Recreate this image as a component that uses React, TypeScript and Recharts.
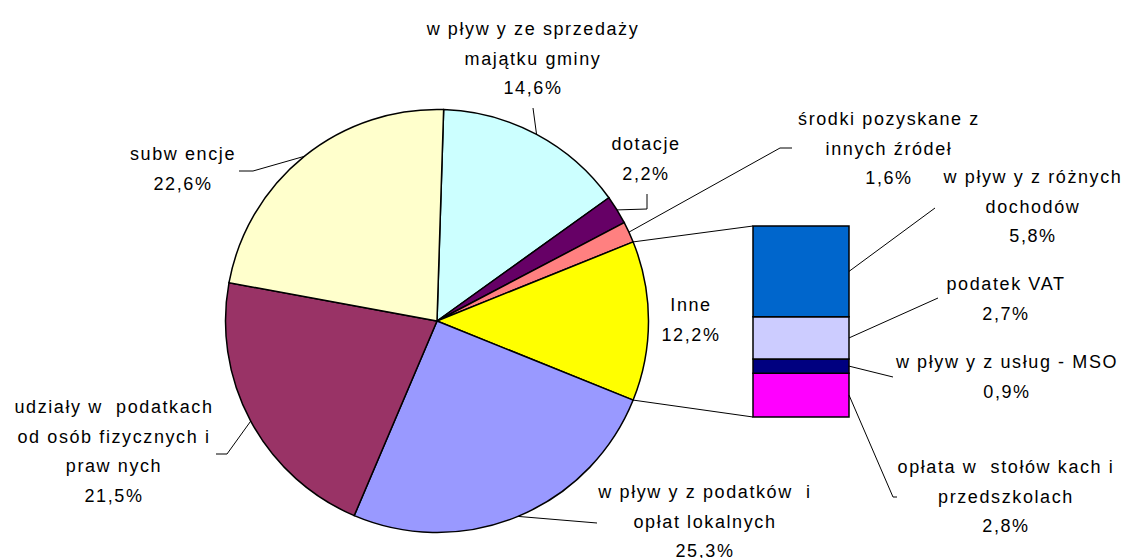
import { Bar, BarChart, Cell, Pie, PieChart, XAxis, YAxis } from "recharts"

// main pie, clockwise from the top
const pieNames = [
  "wpływy ze sprzedaży majątku gminy",
  "dotacje",
  "środki pozyskane z innych źródeł",
  "Inne",
  "wpływy z podatków i opłat lokalnych",
  "udziały w podatkach od osób fizycznych i prawnych",
  "subwencje",
]
const pieValues = [14.6, 2.2, 1.6, 12.2, 25.3, 21.5, 22.6]
const pieColors = ["#CCFFFF", "#660066", "#FF8080", "#FFFF00", "#9999FF", "#993366", "#FFFFCC"]
const pieLabels = [
  ["w pływ y ze sprzedaży", "majątku gminy", "14,6%"],
  ["dotacje", "2,2%"],
  ["środki pozyskane z", "innych źródeł", "1,6%"],
  ["Inne", "12,2%"],
  ["w pływ y z podatków  i", "opłat lokalnych", "25,3%"],
  ["udziały w  podatkach", "od osób fizycznych i", "praw nych", "21,5%"],
  ["subw encje", "22,6%"],
]
const otherIndex = 3

// breakdown of "Inne", bottom to top
const barNames = [
  "opłata w stołówkach i przedszkolach",
  "wpływy z usług - MSO",
  "podatek VAT",
  "wpływy z różnych dochodów",
]
const barValues = [2.8, 0.9, 2.7, 5.8]
const barColors = ["#FF00FF", "#000080", "#CCCCFF", "#0066CC"]
const barLabels = [
  ["opłata w  stołów kach i", "przedszkolach", "2,8%"],
  ["w pływ y z usług - MSO", "0,9%"],
  ["podatek VAT", "2,7%"],
  ["w pływ y z różnych", "dochodów", "5,8%"],
]

// layout
const W = 1125
const H = 558
const CX = 437
const CY = 321
const R = 211.5
const BAR_X = 753
const BAR_Y = 226
const BAR_W = 96
const BAR_H = 191
const LINE_H = 29.5
const FONT = "'Liberation Sans', Arial, sans-serif"

const pieLabelPos = [
  { x: 533, y: 35, leader: [[533, 108]] },
  { x: 646, y: 150, leader: [[647, 209], [647, 194]] },
  { x: 889, y: 125, leader: [[780, 148], [792, 148]] },
  { x: 691, y: 311, leader: [] },
  { x: 705, y: 498, leader: [[597, 523]] },
  { x: 114, y: 413, leader: [[227, 454], [216, 454]] },
  { x: 183, y: 160, leader: [[253, 171], [239, 171]] },
]
const barLabelPos = [
  { x: 1006, y: 473, leader: [[893, 497], [897, 497]] },
  { x: 1007, y: 368, leader: [[893, 377]] },
  { x: 1006, y: 290, leader: [[938, 298]] },
  { x: 1033, y: 183, leader: [[935, 208]] },
]

const total = pieValues.reduce((a, b) => a + b, 0)
const before = pieValues.slice(0, otherIndex).reduce((a, b) => a + b, 0)
// centre the "Inne" slice on 3 o'clock
const startAngle = ((before + pieValues[otherIndex] / 2) / total) * 360
const endAngle = startAngle - 360

const pieData = pieNames.map((name, i) => ({ name, value: pieValues[i] }))
const barRow: Record<string, string | number> = { name: "Inne" }
barValues.forEach((v, i) => (barRow["s" + i] = v))
const barData = [barRow]
const barTotal = barValues.reduce((a, b) => a + b, 0)

const polar = (deg: number, r = R): [number, number] => {
  const a = (deg * Math.PI) / 180
  return [CX + r * Math.cos(a), CY - r * Math.sin(a)]
}

function Label({ x, y, lines }: { x: number; y: number; lines: string[] }) {
  return (
    <text x={x} y={y} textAnchor="middle" fontFamily={FONT} fontSize={18} letterSpacing={1.6} fill="#000">
      {lines.map((l, i) => (
        <tspan key={i} x={x} y={y + i * LINE_H} style={{ whiteSpace: "pre" }}>
          {l}
        </tspan>
      ))}
    </text>
  )
}

export default function App() {
  // pie leader starting points: middle of each slice on the rim
  let acc = 0
  const pieMids = pieValues.map((v) => {
    const mid = startAngle - ((acc + v / 2) / total) * 360
    acc += v
    return polar(mid)
  })
  const halfOther = (pieValues[otherIndex] / total) * 180
  const otherTop = polar(halfOther)
  const otherBottom = polar(-halfOther)

  let bacc = 0
  const barMids = barValues.map((v) => {
    const mid = BAR_Y + BAR_H * (1 - (bacc + v / 2) / barTotal)
    bacc += v
    return [BAR_X + BAR_W, mid]
  })

  return (
    <div style={{ position: "relative", width: W, height: H, background: "#fff", overflow: "hidden" }}>
      <style>{"body{margin:0}"}</style>
      <div style={{ position: "absolute", left: 0, top: 0 }}>
        <PieChart width={W} height={H} margin={{ top: 0, right: 0, bottom: 0, left: 0 }}>
          <Pie
            data={pieData}
            dataKey="value"
            nameKey="name"
            cx={CX}
            cy={CY}
            outerRadius={R}
            startAngle={startAngle}
            endAngle={endAngle}
            stroke="#000"
            strokeWidth={1.5}
            isAnimationActive={false}
            label={false}
            labelLine={false}
          >
            {pieData.map((d, i) => (
              <Cell key={d.name} fill={pieColors[i]} />
            ))}
          </Pie>
        </PieChart>
      </div>
      <div style={{ position: "absolute", left: BAR_X - 2, top: BAR_Y - 2 }}>
        <BarChart
          width={BAR_W + 4}
          height={BAR_H + 4}
          data={barData}
          margin={{ top: 2, right: 2, bottom: 2, left: 2 }}
          barCategoryGap={0}
          barGap={0}
        >
          <XAxis dataKey="name" type="category" hide />
          <YAxis type="number" domain={[0, barTotal]} hide />
          {barNames.map((n, i) => (
            <Bar
              key={n}
              name={n}
              dataKey={"s" + i}
              stackId="a"
              fill={barColors[i]}
              stroke="#000"
              strokeWidth={1.5}
              isAnimationActive={false}
            />
          ))}
        </BarChart>
      </div>
      <svg width={W} height={H} style={{ position: "absolute", left: 0, top: 0, pointerEvents: "none" }}>
        <line x1={otherTop[0]} y1={otherTop[1]} x2={BAR_X} y2={BAR_Y} stroke="#000" strokeWidth={1} />
        <line x1={otherBottom[0]} y1={otherBottom[1]} x2={BAR_X} y2={BAR_Y + BAR_H} stroke="#000" strokeWidth={1} />
        {pieLabelPos.map((p, i) =>
          p.leader.length ? (
            <polyline
              key={"pl" + i}
              points={[pieMids[i], ...p.leader].map((q) => q.join(",")).join(" ")}
              fill="none"
              stroke="#000"
              strokeWidth={1}
            />
          ) : null
        )}
        {barLabelPos.map((p, i) => (
          <polyline
            key={"bl" + i}
            points={[barMids[i], ...p.leader].map((q) => q.join(",")).join(" ")}
            fill="none"
            stroke="#000"
            strokeWidth={1}
          />
        ))}
        {pieLabelPos.map((p, i) => (
          <Label key={"pt" + i} x={p.x} y={p.y} lines={pieLabels[i]} />
        ))}
        {barLabelPos.map((p, i) => (
          <Label key={"bt" + i} x={p.x} y={p.y} lines={barLabels[i]} />
        ))}
      </svg>
    </div>
  )
}
